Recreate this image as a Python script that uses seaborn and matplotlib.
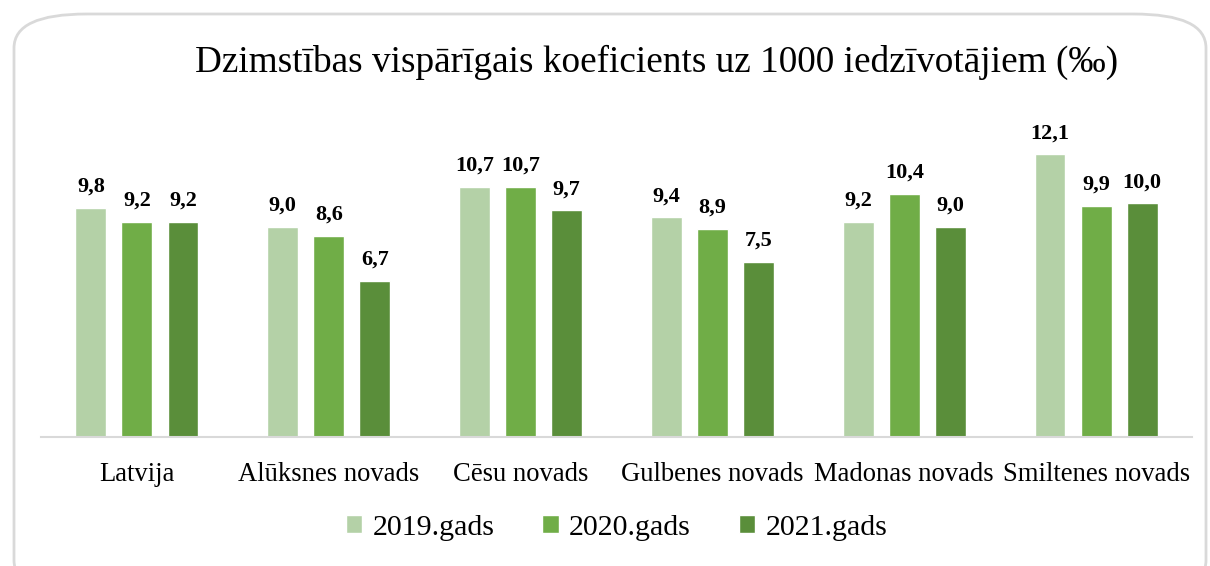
import pandas as pd
import seaborn as sns
import matplotlib
matplotlib.use('Agg')
import matplotlib.pyplot as plt
from matplotlib.patches import FancyBboxPatch

# data
regions = ["Latvija", "Alūksnes novads", "Cēsu novads", "Gulbenes novads",
           "Madonas novads", "Smiltenes novads"]
years = ["2019.gads", "2020.gads", "2021.gads"]
v2019 = [9.8, 9.0, 10.7, 9.4, 9.2, 12.1]
v2020 = [9.2, 8.6, 10.7, 8.9, 10.4, 9.9]
v2021 = [9.2, 6.7, 9.7, 7.5, 9.0, 10.0]
colors = ["#b4d1a7", "#70ad47", "#5a8e3a"]

# long format for seaborn
df = pd.DataFrame({
    "region": regions * 3,
    "year": [years[0]] * 6 + [years[1]] * 6 + [years[2]] * 6,
    "value": v2019 + v2020 + v2021,
})

sns.set_theme(style="white")
plt.rcParams['font.family'] = ['Liberation Serif', 'DejaVu Serif']

fig = plt.figure(figsize=(12.10, 5.66), dpi=100)

# rounded frame around the chart
frame = FancyBboxPatch((14 / 1210, -0.05), 1192 / 1210, 1.0 - 14 / 566 + 0.05,
                       boxstyle="round,pad=0,rounding_size=0.06",
                       transform=fig.transFigure, facecolor="none",
                       edgecolor="#d9d9d9", linewidth=2.0, zorder=-1)
fig.patches.append(frame)

ax = fig.add_axes([41 / 1210, 1 - 437 / 566, 1151 / 1210, 327 / 566])
ax.patch.set_alpha(0)

sns.barplot(data=df, x="region", y="value", hue="year", palette=colors,
            width=0.72, gap=0.33, saturation=1, ax=ax, legend=True)

for cont in ax.containers:
    labels = [f"{b.get_height():.1f}".replace(".", ",") for b in cont]
    ax.bar_label(cont, labels=labels, padding=8, fontsize=16,
                 fontweight="bold", color="black")

ax.set_ylim(0, 14)
ax.set_xlim(-0.5, 5.5)
ax.set_yticks([])
ax.set_xlabel("")
ax.set_ylabel("")
for s in ["top", "right", "left"]:
    ax.spines[s].set_visible(False)
ax.spines["bottom"].set_color("#d9d9d9")
ax.spines["bottom"].set_linewidth(1.5)
ax.tick_params(axis="x", labelsize=19.2, pad=18, length=0, colors="black")

leg = ax.legend(loc="center", bbox_to_anchor=(0.5, (437 - 528) / 327),
                ncol=3, frameon=False, fontsize=21.5, handlelength=0.55,
                handleheight=0.55, handletextpad=0.35, columnspacing=1.6)
for t in leg.get_texts():
    t.set_color("black")

fig.text(0.543, 1 - 62 / 566, "Dzimstības vispārīgais koeficients uz 1000 iedzīvotājiem (‰)",
         ha="center", va="center", fontsize=26.8, color="black")

fig.savefig("out.png", dpi=100)
